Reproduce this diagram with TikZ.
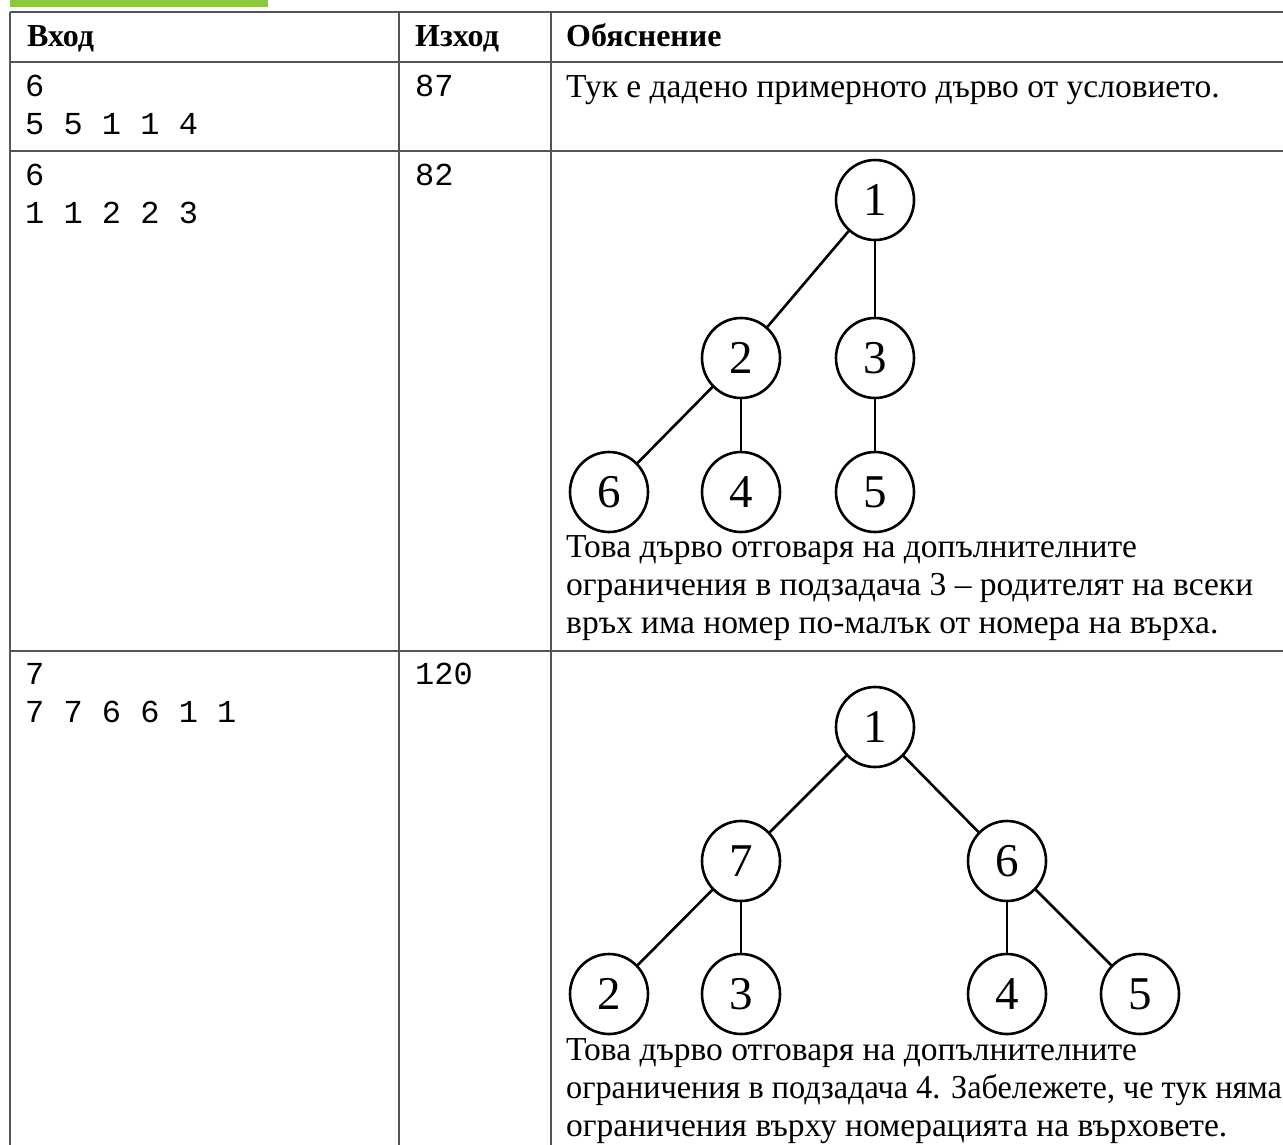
\documentclass[tikz,border=0pt]{standalone}
\usepackage{fontspec}
\setmainfont{Liberation Serif}
\setmonofont{Liberation Mono}
\usetikzlibrary{shapes.geometric}
\definecolor{barGreen}{RGB}{141,198,63}
\definecolor{gridGray}{RGB}{85,85,85}
\begin{document}
\begin{tikzpicture}[x=1pt,y=-1pt,
  gridline/.style={draw=gridGray, line width=2pt},
  head/.style={anchor=base west, inner sep=0pt, font=\fontsize{32}{38}\selectfont\bfseries},
  mono/.style={anchor=base west, inner sep=0pt, font=\fontsize{32}{38}\selectfont\ttfamily},
  txt/.style={anchor=base west, inner sep=0pt, font=\fontsize{33.5}{38}\selectfont},
  vert/.style={ellipse, draw, line width=2.6pt, minimum width=78pt, minimum height=80pt, inner sep=0pt, font=\fontsize{47}{50}\selectfont},
  treeedge/.style={line width=2.6pt}]
\useasboundingbox (0,0) rectangle (1283,1144);
% green bar
\fill[barGreen] (10,0) rectangle (268,6.5);
% table grid
\draw[gridline] (10,12) -- (1290,12);
\draw[gridline] (10,62) -- (1290,62);
\draw[gridline] (10,151) -- (1290,151);
\draw[gridline] (10,651) -- (1290,651);
\draw[gridline] (10,12) -- (10,1150);
\draw[gridline] (399,12) -- (399,1150);
\draw[gridline] (551,12) -- (551,1150);
% header
\node[head] (hIn) at (27,46) {Вход};
\node[head] (hOut) at (415,46) {Изход};
\node[head] (hExp) at (566,46) {Обяснение};
% row 1
\node[mono] (r1a) at (25,96) {6};
\node[mono] (r1b) at (25,134) {5 5 1 1 4};
\node[mono] (r1o) at (415,96) {87};
\node[txt] (r1e) at (566,97) {Тук е дадено примерното дърво от условието.};
% row 2
\node[mono] (r2a) at (25,185) {6};
\node[mono] (r2b) at (25,223) {1 1 2 2 3};
\node[mono] (r2o) at (415,185) {82};
\node[vert] (a1) at (875,200) {1};
\node[vert] (a2) at (741,358) {2};
\node[vert] (a3) at (875,358) {3};
\node[vert] (a6) at (609,492) {6};
\node[vert] (a4) at (741,492) {4};
\node[vert] (a5) at (875,492) {5};
\draw[treeedge] (a1) -- (a2);
\draw[treeedge] (a1) -- (a3);
\draw[treeedge] (a2) -- (a6);
\draw[treeedge] (a2) -- (a4);
\draw[treeedge] (a3) -- (a5);
\node[txt] (r2e1) at (566,557) {Това дърво отговаря на допълнителните};
\node[txt] (r2e2) at (566,595) {ограничения в подзадача 3 – родителят на всеки};
\node[txt] (r2e3) at (566,633) {връх има номер по-малък от номера на върха.};
% row 3
\node[mono] (r3a) at (25,684) {7};
\node[mono] (r3b) at (25,722) {7 7 6 6 1 1};
\node[mono] (r3o) at (415,684) {120};
\node[vert] (b1) at (875,727) {1};
\node[vert] (b7) at (741,861) {7};
\node[vert] (b6) at (1007,861) {6};
\node[vert] (b2) at (609,994) {2};
\node[vert] (b3) at (741,994) {3};
\node[vert] (b4) at (1007,994) {4};
\node[vert] (b5) at (1140,994) {5};
\draw[treeedge] (b1) -- (b7);
\draw[treeedge] (b1) -- (b6);
\draw[treeedge] (b7) -- (b2);
\draw[treeedge] (b7) -- (b3);
\draw[treeedge] (b6) -- (b4);
\draw[treeedge] (b6) -- (b5);
\node[txt] (r3e1) at (566,1060) {Това дърво отговаря на допълнителните};
\node[txt] (r3e2) at (566,1098) {\scalebox{0.963}[1]{ограничения в подзадача 4. Забележете, че тук няма}};
\node[txt] (r3e3) at (566,1136) {ограничения върху номерацията на върховете.};
\end{tikzpicture}
\end{document}
